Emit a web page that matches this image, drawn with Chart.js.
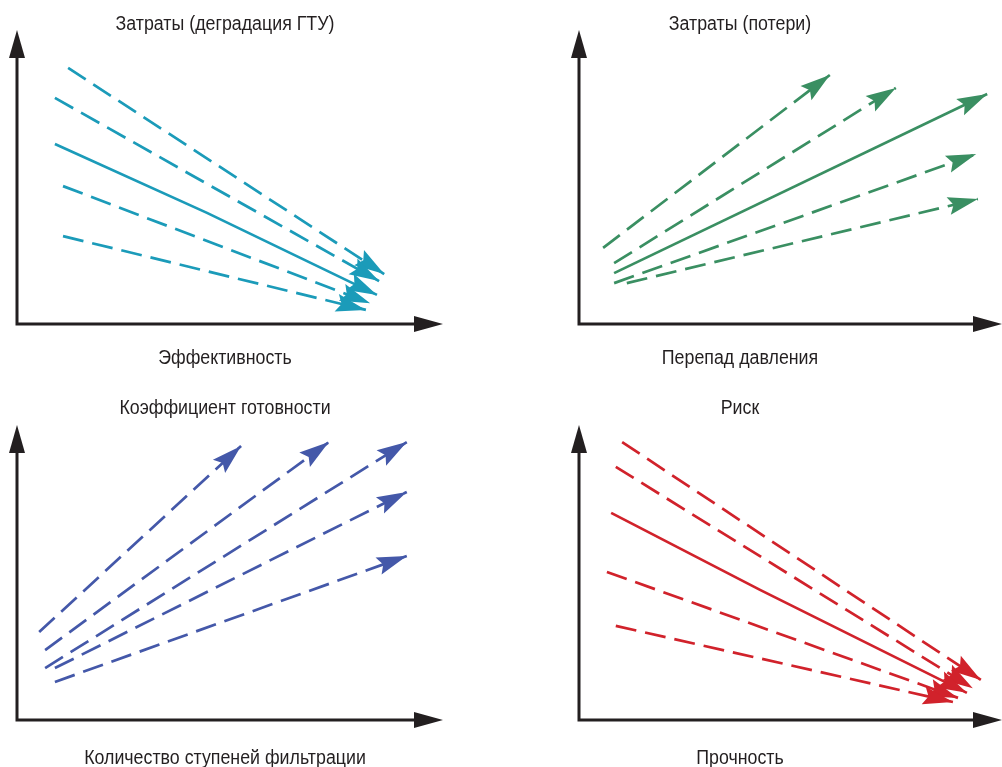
<!DOCTYPE html>
<html lang="ru">
<head>
<meta charset="utf-8">
<title>Зависимости параметров ГТУ</title>
<script src="https://cdn.jsdelivr.net/npm/chart.js@4/dist/chart.umd.min.js"></script>
<style>
  html, body { margin: 0; padding: 0; background: #ffffff; }
  #wrap {
    position: relative; width: 1002px; height: 767px; overflow: hidden;
    font-family: 'Liberation Sans', Arial, sans-serif;
    color: #231f20;
  }
  .panel { position: absolute; }
  .panel canvas { position: absolute; left: 0; top: 0; }
  .lbl {
    position: absolute; white-space: nowrap; font-size: 20px; line-height: 1;
    transform: translate(-50%, -50%) scaleX(0.89);
  }
</style>
</head>
<body>
<div id="wrap">
  <div class="panel" style="left:0;top:0;width:501px;height:383px"><canvas id="c1" width="501" height="383"></canvas></div>
  <div class="panel" style="left:501px;top:0;width:501px;height:383px"><canvas id="c2" width="501" height="383"></canvas></div>
  <div class="panel" style="left:0;top:383px;width:501px;height:384px"><canvas id="c3" width="501" height="384"></canvas></div>
  <div class="panel" style="left:501px;top:383px;width:501px;height:384px"><canvas id="c4" width="501" height="384"></canvas></div>

  <div class="lbl" style="left:225px;top:23px">Затраты (деградация ГТУ)</div>
  <div class="lbl" style="left:225px;top:357px">Эффективность</div>
  <div class="lbl" style="left:740px;top:23px">Затраты (потери)</div>
  <div class="lbl" style="left:740px;top:357px">Перепад давления</div>
  <div class="lbl" style="left:225px;top:407px">Коэффициент готовности</div>
  <div class="lbl" style="left:225px;top:757px">Количество ступеней фильтрации</div>
  <div class="lbl" style="left:740px;top:407px">Риск</div>
  <div class="lbl" style="left:740px;top:757px">Прочность</div>
</div>

<script>
// Relative scale: both axes run 0..100 (no units on the diagrams).
// Each trend is a list of x values and a list of y values; the last point is the arrow tip.

// Efficiency -> cost of GTU degradation
const degradX = [[12.0, 86.2], [8.9, 85.0], [8.9, 44.6, 84.5], [10.8, 82.9], [10.8, 81.9]];
const degradY = [[87.1, 17.0], [76.9, 14.6], [61.2, 37.8, 9.9], [46.9, 7.1], [29.9, 4.8]];
const degradDashed = [true, true, false, true, true];

// Pressure drop -> cost of losses
const lossX = [[5.7, 59.3], [8.3, 74.9], [8.3, 96.5], [8.3, 93.9], [11.3, 94.3]];
const lossY = [[25.9, 84.7], [20.7, 80.3], [17.3, 78.2], [13.9, 57.8], [13.9, 42.5]];
const lossDashed = [true, true, false, true, true];

// Number of filtration stages -> availability factor
const availX = [[5.2, 52.6], [6.6, 73.2], [6.6, 91.5], [8.9, 91.5], [8.9, 91.5]];
const availY = [[29.8, 92.9], [23.7, 94.2], [17.6, 94.2], [17.6, 77.3], [12.9, 55.6]];
const availDashed = [true, true, true, true, true];

// Strength -> risk
const riskX = [[10.2, 95.0], [8.7, 93.1], [7.6, 42.8, 91.7], [6.6, 89.6], [8.7, 88.4]];
const riskY = [[94.2, 13.6], [85.8, 10.8], [70.2, 44.1, 9.2], [50.2, 7.5], [31.9, 6.1]];
const riskDashed = [true, true, false, true, true];

const AXIS_COLOR = '#231f20';

// Axes with arrow tips at the ends of the chart area, plus arrowheads on every trend line
const arrowPlugin = {
  id: 'arrows',
  afterDatasetsDraw(chart) {
    const ctx = chart.ctx;
    const a = chart.chartArea;
    ctx.save();

    // axis lines
    ctx.strokeStyle = AXIS_COLOR;
    ctx.lineWidth = 3;
    ctx.lineCap = 'butt';
    ctx.beginPath();
    ctx.moveTo(a.left, a.bottom + 1.5);
    ctx.lineTo(a.left, a.top + 20);
    ctx.moveTo(a.left - 1.5, a.bottom);
    ctx.lineTo(a.right - 20, a.bottom);
    ctx.stroke();

    // axis arrowheads
    ctx.fillStyle = AXIS_COLOR;
    ctx.beginPath();
    ctx.moveTo(a.left, a.top);
    ctx.lineTo(a.left + 8, a.top + 28);
    ctx.lineTo(a.left - 8, a.top + 28);
    ctx.closePath();
    ctx.fill();
    ctx.beginPath();
    ctx.moveTo(a.right, a.bottom);
    ctx.lineTo(a.right - 29, a.bottom - 8);
    ctx.lineTo(a.right - 29, a.bottom + 8);
    ctx.closePath();
    ctx.fill();

    // notched arrowheads at the last point of each trend
    chart.data.datasets.forEach((ds, i) => {
      const pts = chart.getDatasetMeta(i).data;
      if (pts.length < 2) return;
      const tip = pts[pts.length - 1];
      const prev = pts[pts.length - 2];
      let dx = tip.x - prev.x, dy = tip.y - prev.y;
      const len = Math.hypot(dx, dy) || 1;
      dx /= len; dy /= len;
      const px = -dy, py = dx;
      const L = 30, W = 9, N = 5;
      ctx.fillStyle = ds.borderColor;
      ctx.beginPath();
      ctx.moveTo(tip.x, tip.y);
      ctx.lineTo(tip.x - L * dx + W * px, tip.y - L * dy + W * py);
      ctx.lineTo(tip.x - (L - N) * dx, tip.y - (L - N) * dy);
      ctx.lineTo(tip.x - L * dx - W * px, tip.y - L * dy - W * py);
      ctx.closePath();
      ctx.fill();
    });
    ctx.restore();
  }
};

function makeDatasets(xs, ys, dashed, color) {
  return xs.map((xList, i) => ({
    data: xList.map((x, j) => ({ x: x, y: ys[i][j] })),
    borderColor: color,
    backgroundColor: color,
    borderWidth: 2.7,
    borderDash: dashed[i] ? [21, 9] : [],
    pointRadius: 0,
    pointHoverRadius: 0,
    tension: 0,
    fill: false,
    clip: false
  }));
}

function makeChart(id, xs, ys, dashed, color, pad) {
  return new Chart(document.getElementById(id), {
    type: 'line',
    data: { datasets: makeDatasets(xs, ys, dashed, color) },
    options: {
      responsive: false,
      animation: false,
      devicePixelRatio: 1,
      layout: { padding: pad },
      plugins: { legend: { display: false }, tooltip: { enabled: false }, title: { display: false } },
      events: [],
      scales: {
        x: { type: 'linear', min: 0, max: 100, display: false },
        y: { type: 'linear', min: 0, max: 100, display: false }
      }
    },
    plugins: [arrowPlugin]
  });
}

makeChart('c1', degradX, degradY, degradDashed, '#1b9bb9', { left: 17, top: 30, right: 58, bottom: 59 });
makeChart('c2', lossX, lossY, lossDashed, '#3a8f62', { left: 78, top: 30, right: 0, bottom: 59 });
makeChart('c3', availX, availY, availDashed, '#4458a9', { left: 17, top: 42, right: 58, bottom: 47 });
makeChart('c4', riskX, riskY, riskDashed, '#d1222b', { left: 78, top: 42, right: 0, bottom: 47 });
</script>
</body>
</html>
